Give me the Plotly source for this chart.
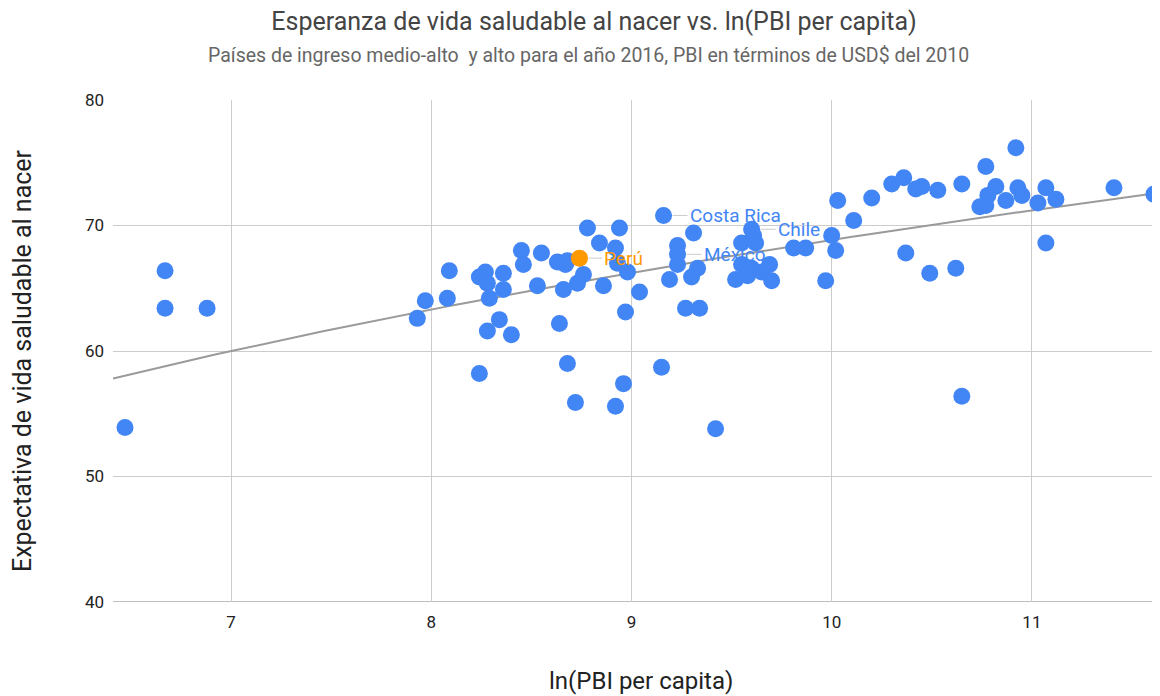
import numpy as np
import plotly.graph_objects as go

# ln(PBI per capita) and healthy life expectancy at birth (2016)
ln_pbi = [
    6.47, 6.67, 6.67, 6.88, 7.93, 7.97, 8.09, 8.08, 8.24, 8.27,
    8.28, 8.29, 8.36, 8.36, 8.45, 8.46, 8.55, 8.53, 8.63, 8.67,
    8.68, 8.66, 8.73, 8.76, 8.86, 8.78, 8.94, 8.84, 8.92, 8.93,
    8.98, 9.04, 8.97, 8.34, 8.28, 8.40, 8.64, 8.24, 8.68, 8.96,
    8.72, 8.92, 9.15, 9.42, 9.31, 9.23, 9.23, 9.19, 9.30, 9.33,
    9.27, 9.34, 9.61, 9.55, 9.62, 9.55, 9.60, 9.52, 9.58, 9.65,
    9.69, 9.70, 9.81, 9.87, 10.00, 10.02, 9.97, 10.03, 10.11, 10.20,
    10.30, 10.36, 10.42, 10.45, 10.53, 10.65, 10.37, 10.49, 10.62, 10.65,
    10.77, 10.92, 10.82, 10.78, 10.74, 10.77, 10.87, 10.93, 10.95, 11.03,
    11.07, 11.12, 11.41, 11.61, 11.07,
]
esperanza = [
    53.9, 66.4, 63.4, 63.4, 62.6, 64.0, 66.4, 64.2, 65.9, 66.3,
    65.4, 64.2, 66.2, 64.9, 68.0, 66.9, 67.8, 65.2, 67.1, 66.9,
    67.2, 64.9, 65.4, 66.1, 65.2, 69.8, 69.8, 68.6, 68.2, 67.0,
    66.3, 64.7, 63.1, 62.5, 61.6, 61.3, 62.2, 58.2, 59.0, 57.4,
    55.9, 55.6, 58.7, 53.8, 69.4, 68.4, 66.9, 65.7, 65.9, 66.6,
    63.4, 63.4, 69.2, 68.6, 68.6, 66.9, 66.6, 65.7, 66.0, 66.3,
    66.9, 65.6, 68.2, 68.2, 69.2, 68.0, 65.6, 72.0, 70.4, 72.2,
    73.3, 73.8, 72.9, 73.1, 72.8, 73.3, 67.8, 66.2, 66.6, 56.4,
    74.7, 76.2, 73.1, 72.4, 71.5, 71.6, 72.0, 73.0, 72.4, 71.8,
    73.0, 72.1, 73.0, 72.5, 68.6,
]

# Highlighted countries
paises_destacados = ["Costa Rica", "México", "Chile"]
ln_pbi_destacados = [9.16, 9.23, 9.60]
esperanza_destacados = [70.8, 67.7, 69.7]

pais_peru = ["Perú"]
ln_pbi_peru = [8.74]
esperanza_peru = [67.4]

x_ticks = [7, 8, 9, 10, 11]
y_ticks = [40, 50, 60, 70, 80]

# Logarithmic trendline y = a*ln(x) + b, coefficients
tendencia_a = 24.8
tendencia_b = 11.74

AZUL = "#4285F4"
NARANJA = "#FF9900"

x_rango = [6.41, 11.64]
trend_x = np.linspace(x_rango[0], x_rango[1], 120)
trend_y = tendencia_a * np.log(trend_x) + tendencia_b

fig = go.Figure()
fig.add_trace(go.Scatter(
    x=trend_x, y=trend_y, mode="lines",
    line=dict(color="#9a9a9a", width=2), hoverinfo="skip",
))
fig.add_trace(go.Scatter(
    x=ln_pbi + ln_pbi_destacados, y=esperanza + esperanza_destacados,
    mode="markers", marker=dict(color=AZUL, size=17, line=dict(width=0)),
    cliponaxis=False,
))
fig.add_trace(go.Scatter(
    x=ln_pbi_peru, y=esperanza_peru, mode="markers",
    marker=dict(color=NARANJA, size=17, line=dict(width=0)), cliponaxis=False,
))

FONT = "Roboto, Arial, sans-serif"
annotations = []
for nombre, xv, yv in zip(paises_destacados, ln_pbi_destacados, esperanza_destacados):
    annotations.append(dict(
        x=xv, y=yv, xref="x", yref="y", text=nombre, showarrow=True,
        ax=24, ay=0, xanchor="left", yanchor="middle", arrowhead=0,
        arrowcolor="#cccccc", arrowwidth=1, standoff=9,
        font=dict(family=FONT, size=19, color=AZUL),
    ))
for nombre, xv, yv in zip(pais_peru, ln_pbi_peru, esperanza_peru):
    annotations.append(dict(
        x=xv, y=yv, xref="x", yref="y", text=nombre, showarrow=True,
        ax=23, ay=0, xanchor="left", yanchor="middle", arrowhead=0,
        arrowcolor="#cccccc", arrowwidth=1, standoff=9,
        font=dict(family=FONT, size=19, color=NARANJA),
    ))

# subtitle
annotations.append(dict(
    text="Países de ingreso medio-alto  y alto para el año 2016, PBI en términos de USD$ del 2010",
    xref="paper", yref="paper", x=0.4546, y=1, yshift=45, showarrow=False,
    xanchor="center", yanchor="middle",
    font=dict(family=FONT, size=19.5, color="#666666"),
))
# axis titles
annotations.append(dict(
    text="ln(PBI per capita)", xref="paper", yref="paper", x=0.5, y=0,
    xshift=4, yshift=-79, showarrow=False, xanchor="center", yanchor="middle",
    font=dict(family=FONT, size=24, color="#222222"),
))
annotations.append(dict(
    text="Expectativa de vida saludable al nacer", xref="paper", yref="paper",
    x=0, y=0.48, xshift=-91, showarrow=False, xanchor="center", yanchor="middle",
    textangle=-90, font=dict(family=FONT, size=25, color="#222222"),
))

# the page body adds an 8px margin; the figure is sized so the plot area
# lands where it does in the reference
fig.update_layout(
    width=1152, height=688,
    margin=dict(l=105, r=0, t=92, b=94),
    paper_bgcolor="white", plot_bgcolor="white",
    showlegend=False,
    title=dict(
        text="Esperanza de vida saludable al nacer vs. ln(PBI per capita)",
        xref="container", x=586 / 1152, y=1 - 13 / 688, xanchor="center", yanchor="middle",
        font=dict(family=FONT, size=25, color="#444444"),
    ),
    annotations=annotations,
)
fig.update_xaxes(
    range=x_rango, tickvals=x_ticks, showgrid=True, gridcolor="#cccccc", gridwidth=1,
    zeroline=False, showline=False, ticks="", ticklabelstandoff=8,
    tickfont=dict(family=FONT, size=17, color="#222222"),
)
fig.update_yaxes(
    range=[40, 80], tickvals=y_ticks, showgrid=True, gridcolor="#cccccc", gridwidth=1,
    zeroline=False, showline=False, ticks="", ticklabelstandoff=8,
    tickfont=dict(family=FONT, size=17, color="#222222"),
)
fig.add_shape(type="line", xref="paper", yref="y", x0=0, x1=1, y0=40, y1=40,
              line=dict(color="#bdbdbd", width=2), layer="below")

fig.write_html("out.html")
